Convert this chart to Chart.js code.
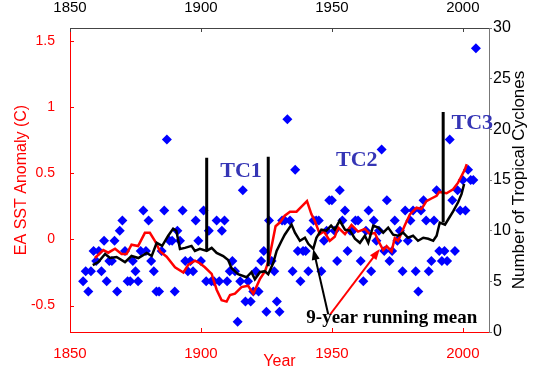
<!DOCTYPE html>
<html>
<head>
<meta charset="utf-8">
<script src="https://cdn.jsdelivr.net/npm/chart.js@4.4.0/dist/chart.umd.min.js"></script>
<style>
  html, body { margin: 0; padding: 0; background: #fff; }
</style>
</head>
<body>
<canvas id="tcchart" width="539" height="374"></canvas>
<script>
// yearly tropical cyclone counts, first year 1855
const tcStartYear = 1855;
const tcCounts = [
  5, 6, 4, 6, 8, 7, 8, 6, 9, 5,
  7, 7, 9, 4, 10, 11, 8, 5, 5, 7,
  6, 5, 8, 12, 8, 11, 7, 6, 4, 4,
  8, 12, 19, 9, 9, 4, 10, 9, 12, 7,
  6, 7, 6, 11, 9,
  7, 12, 5, 10, 5, 5, 11, 5, 10, 11,
  5, 6, 7, 6, 1, 5, 14, 3, 5, 3,
  4, 6, 4, 7, 8, 2, 11, 7, 6, 3,
  2, 11, 11, 21, 11, 6, 16, 8, 5, 8,
  8, 6, 10, 11, 11, 11, 6, 9, 10, 13,
  13, 10, 7, 14, 11, 12, 8, 10, 10, 11,
  11, 7, 5, 10, 12, 6, 11, 9, 10, 18,
  8, 13, 7, 8, 11, 9, 10, 6, 12, 9,
  11, 12, 6, 4, 12, 13, 11, 6, 7, 11,
  14, 8, 7, 8, 7, 19, 13, 8, 14, 12,
  15, 12, 16, 15, 15, 28
];

// EA SST anomaly, 9-year running mean
const sstYears = [1859.5, 1862.7, 1864.6, 1867.2, 1869.7, 1871.6, 1873.5, 1876, 1878.6, 1880.5,
  1882.4, 1884.4, 1886.9, 1890.1, 1893.3, 1895.2, 1897.7, 1899.6, 1901.5, 1904.1,
  1906, 1907.9, 1909.8, 1911.1, 1913, 1915.5, 1918, 1920, 1922.5, 1924.5,
  1926, 1927.5, 1928.5, 1930.2, 1932, 1934, 1936.5, 1938.5, 1940.5, 1942.2,
  1943.5, 1945.4, 1947, 1949.2, 1951.1, 1952.4, 1955, 1957.5, 1960, 1962.6,
  1964.5, 1966.4, 1967.7, 1969.6, 1970.9, 1972.8, 1974, 1975.3, 1977.9, 1979.8,
  1982.3, 1984.2, 1986.1, 1988, 1990, 1991, 1993.8, 1996.3, 1998.2, 1999.5,
  2000.8, 2001.5];
const sstMean = [-0.14, -0.08, -0.10, -0.07, -0.11, -0.11, -0.04, -0.05, 0.05, 0.05,
  -0.01, -0.09, -0.13, -0.21, -0.25, -0.19, -0.16, -0.18, -0.21, -0.26,
  -0.38, -0.46, -0.47, -0.42, -0.41, -0.36, -0.35, -0.41, -0.30, -0.24,
  -0.15, 0.0, 0.10, 0.13, 0.18, 0.21, 0.21, 0.25, 0.29, 0.19,
  0.14, 0.04, 0.06, -0.01, 0.02, 0.09, 0.04, 0.11, 0.06, 0.08,
  0.04, 0.05, -0.01, -0.08, -0.05, -0.09, 0.01, -0.01, 0.11, 0.19,
  0.24, 0.23, 0.29, 0.31, 0.33, 0.36, 0.35, 0.38, 0.43, 0.48,
  0.53, 0.57];

// tropical cyclones, 9-year running mean
const tcMeanYears = [1858.7, 1860.8, 1863.4, 1865.3, 1867.8, 1871, 1873.5, 1876.1, 1879.3, 1881.2,
  1883.1, 1885.2, 1887.5, 1889.4, 1890.6, 1892, 1893.9, 1896.4, 1897.7, 1899.6,
  1902.2, 1904.1, 1906, 1908.5, 1910.4, 1911.7, 1914.2, 1917.4, 1919.3, 1920.6,
  1922.5, 1924.4, 1925.7, 1927.6, 1928.9, 1930.8, 1932, 1934.6, 1935.9, 1937.8,
  1939.7, 1941, 1942.9, 1944.1, 1946, 1947.9, 1949.7, 1951.1, 1953, 1955,
  1956.9, 1958.8, 1960.7, 1962.6, 1963.9, 1965.8, 1967.7, 1969.6, 1971.5, 1973.4,
  1975.3, 1977.2, 1979.1, 1981, 1982.9, 1984.9, 1986.8, 1988.7, 1990, 1991.2,
  1993.2, 1994.4, 1996.3, 1998.2, 1999.5, 2000.5];
const tcMean = [6.6, 6.9, 7.7, 7.3, 7.4, 6.9, 7.5, 7.3, 7.8, 7.5,
  8.8, 8.5, 9.5, 10.2, 10.0, 8.2, 8.3, 8.5, 8.0, 8.2,
  8.0, 8.3, 7.8, 7.5, 7.1, 6.3, 5.7, 5.4, 5.9, 5.2,
  5.9, 6.0, 5.7, 6.8, 8.0, 9.0, 9.6, 10.6, 9.8, 9.0,
  9.3, 8.7, 8.2, 9.3, 10.1, 10.0, 10.5, 10.1, 11.0, 10.1,
  10.0, 9.2, 8.8, 9.5, 8.8, 10.5, 10.3, 9.8, 10.3, 9.6,
  9.5, 9.8, 9.3, 9.5, 9.0, 9.3, 9.2, 9.0, 9.5, 10.8,
  10.6, 11.1, 11.9, 12.8, 13.6, 14.6];

// regime shift markers
const shiftNames = ['TC1', 'TC2', 'TC3'];
const shiftYears = [1902.2, 1925.7, 1992.5];
const shiftTop = [17.2, 17.3, 21.7];
const shiftBottom = [8.0, 6.5, 10.8];
const shiftLabelYears = [1915.3, 1959.5, 2003.6];
const shiftLabelCounts = [15.9, 16.9, 20.6];

const meanLabel = '9-year running mean';
const meanLabelAt = [1972.9, 1.4];
const arrowFromYears = [1948.6, 1949.4];
const arrowFromCounts = [1.75, 1.75];
const arrowToYears = [1942.9, 1968.3];
const arrowToCounts = [8.2, 8.2];
const arrowColors = ['black', 'red'];

const yearTicks = [1850, 1900, 1950, 2000];
const sstTicks = [-0.5, 0, 0.5, 1, 1.5];
const countTicks = [0, 5, 10, 15, 20, 25, 30];

const shiftData = [];
shiftYears.forEach((yr, i) => {
  shiftData.push({x: yr, y: shiftBottom[i]});
  shiftData.push({x: yr, y: shiftTop[i]});
  shiftData.push({x: yr, y: null});
});

function drawArrow(ctx, x1, y1, x2, y2, color) {
  const a = Math.atan2(y2 - y1, x2 - x1);
  ctx.strokeStyle = color;
  ctx.fillStyle = color;
  ctx.lineWidth = 2;
  ctx.beginPath();
  ctx.moveTo(x1, y1);
  ctx.lineTo(x2 - 6 * Math.cos(a), y2 - 6 * Math.sin(a));
  ctx.stroke();
  ctx.beginPath();
  ctx.moveTo(x2, y2);
  ctx.lineTo(x2 - 11 * Math.cos(a) + 4 * Math.sin(a), y2 - 11 * Math.sin(a) - 4 * Math.cos(a));
  ctx.lineTo(x2 - 11 * Math.cos(a) - 4 * Math.sin(a), y2 - 11 * Math.sin(a) + 4 * Math.cos(a));
  ctx.closePath();
  ctx.fill();
}

const extras = {
  id: 'extras',
  afterDatasetsDraw(chart) {
    const ctx = chart.ctx;
    const sx = chart.scales.x, sy = chart.scales.y, sy2 = chart.scales.y2;
    const area = chart.chartArea;
    ctx.save();

    // inward tick marks
    ctx.lineWidth = 1;
    ctx.strokeStyle = 'red';
    yearTicks.forEach(v => {
      const px = Math.round(sx.getPixelForValue(v)) + 0.5;
      ctx.beginPath(); ctx.moveTo(px, area.bottom); ctx.lineTo(px, area.bottom - 4); ctx.stroke();
    });
    sstTicks.forEach(v => {
      const py = Math.round(sy.getPixelForValue(v)) + 0.5;
      ctx.beginPath(); ctx.moveTo(area.left, py); ctx.lineTo(area.left + 4, py); ctx.stroke();
    });
    ctx.strokeStyle = '#444';
    yearTicks.forEach(v => {
      const px = Math.round(sx.getPixelForValue(v)) + 0.5;
      ctx.beginPath(); ctx.moveTo(px, area.top); ctx.lineTo(px, area.top + 4); ctx.stroke();
    });

    // TC labels
    ctx.fillStyle = '#3535b5';
    ctx.font = 'bold 22px "Liberation Serif", "Times New Roman", serif';
    ctx.textAlign = 'center';
    ctx.textBaseline = 'middle';
    shiftNames.forEach((name, i) => {
      ctx.fillText(name, sx.getPixelForValue(shiftLabelYears[i]), sy2.getPixelForValue(shiftLabelCounts[i]));
    });

    // arrows and running mean label
    arrowColors.forEach((c, i) => {
      drawArrow(ctx,
        sx.getPixelForValue(arrowFromYears[i]), sy2.getPixelForValue(arrowFromCounts[i]),
        sx.getPixelForValue(arrowToYears[i]), sy2.getPixelForValue(arrowToCounts[i]), c);
    });
    ctx.fillStyle = 'black';
    ctx.font = 'bold 19px "Liberation Serif", "Times New Roman", serif';
    ctx.fillText(meanLabel, sx.getPixelForValue(meanLabelAt[0]), sy2.getPixelForValue(meanLabelAt[1]));

    // right axis title reads bottom to top
    ctx.translate(519, (area.top + area.bottom) / 2);
    ctx.rotate(-Math.PI / 2);
    ctx.font = '17px "Liberation Sans", Arial, sans-serif';
    ctx.fillStyle = 'black';
    ctx.fillText('Number of Tropical Cyclones', 0, 0);
    ctx.restore();
  }
};

const plainTick = v => String(v);

const config = {
  type: 'scatter',
  data: {
    datasets: [
      {
        label: 'EA SST 9-yr mean',
        type: 'line',
        data: sstYears.map((yr, i) => ({x: yr, y: sstMean[i]})),
        borderColor: 'red',
        borderWidth: 2.5,
        pointRadius: 0,
        tension: 0,
        yAxisID: 'y',
        order: 1
      },
      {
        label: 'TC 9-yr mean',
        type: 'line',
        data: tcMeanYears.map((yr, i) => ({x: yr, y: tcMean[i]})),
        borderColor: 'black',
        borderWidth: 2.5,
        pointRadius: 0,
        tension: 0,
        yAxisID: 'y2',
        order: 0
      },
      {
        label: 'Shifts',
        type: 'line',
        data: shiftData,
        borderColor: 'black',
        borderWidth: 3,
        pointRadius: 0,
        spanGaps: false,
        yAxisID: 'y2',
        order: 0
      },
      {
        label: 'Tropical cyclones',
        data: tcCounts.map((v, i) => ({x: tcStartYear + i, y: v})),
        backgroundColor: '#0000ff',
        borderWidth: 0,
        pointStyle: 'rectRot',
        pointRadius: 5,
        yAxisID: 'y2',
        order: 2
      }
    ]
  },
  options: {
    responsive: false,
    animation: false,
    devicePixelRatio: 1,
    layout: { padding: 0 },
    plugins: {
      legend: { display: false },
      tooltip: { enabled: false }
    },
    scales: {
      x: {
        type: 'linear',
        position: 'bottom',
        min: 1850,
        max: 2010,
        afterBuildTicks: s => { s.ticks = yearTicks.map(v => ({value: v})); },
        afterFit: s => { s.height = 42; },
        grid: { display: false },
        border: { color: 'red', width: 1 },
        ticks: { color: 'red', padding: 5, maxRotation: 0, callback: plainTick, font: { size: 15, family: 'Liberation Sans' } },
        title: { display: true, text: 'Year', color: 'red', padding: { top: 0, bottom: 3 }, font: { size: 16, family: 'Liberation Sans' } }
      },
      x2: {
        type: 'linear',
        position: 'top',
        min: 1850,
        max: 2010,
        afterBuildTicks: s => { s.ticks = yearTicks.map(v => ({value: v})); },
        afterFit: s => { s.height = 28; },
        grid: { display: false },
        border: { color: '#444', width: 1 },
        ticks: { color: 'black', padding: 3, maxRotation: 0, callback: plainTick, font: { size: 15, family: 'Liberation Sans' } }
      },
      y: {
        type: 'linear',
        position: 'left',
        min: -0.7,
        max: 1.6,
        afterBuildTicks: s => { s.ticks = sstTicks.map(v => ({value: v})); },
        afterFit: s => { s.width = 70; },
        grid: { display: false },
        border: { color: 'red', width: 1 },
        ticks: { color: 'red', padding: 7, callback: plainTick, font: { size: 14, family: 'Liberation Sans' } },
        title: { display: true, text: 'EA SST Anomaly (C)', color: 'red', padding: { top: 12, bottom: 0 }, font: { size: 16, family: 'Liberation Sans' } }
      },
      y2: {
        type: 'linear',
        position: 'right',
        min: 0,
        max: 30,
        afterBuildTicks: s => { s.ticks = countTicks.map(v => ({value: v})); },
        afterFit: s => { s.width = 50; },
        grid: { drawOnChartArea: false, drawTicks: true, tickLength: 3, color: '#777' },
        border: { color: '#777', width: 1 },
        ticks: { color: 'black', padding: 1, callback: plainTick, font: { size: 16, family: 'Liberation Sans' } }
      }
    }
  },
  plugins: [extras]
};

const ctx = document.getElementById('tcchart').getContext('2d');
new Chart(ctx, config);
</script>
</body>
</html>
